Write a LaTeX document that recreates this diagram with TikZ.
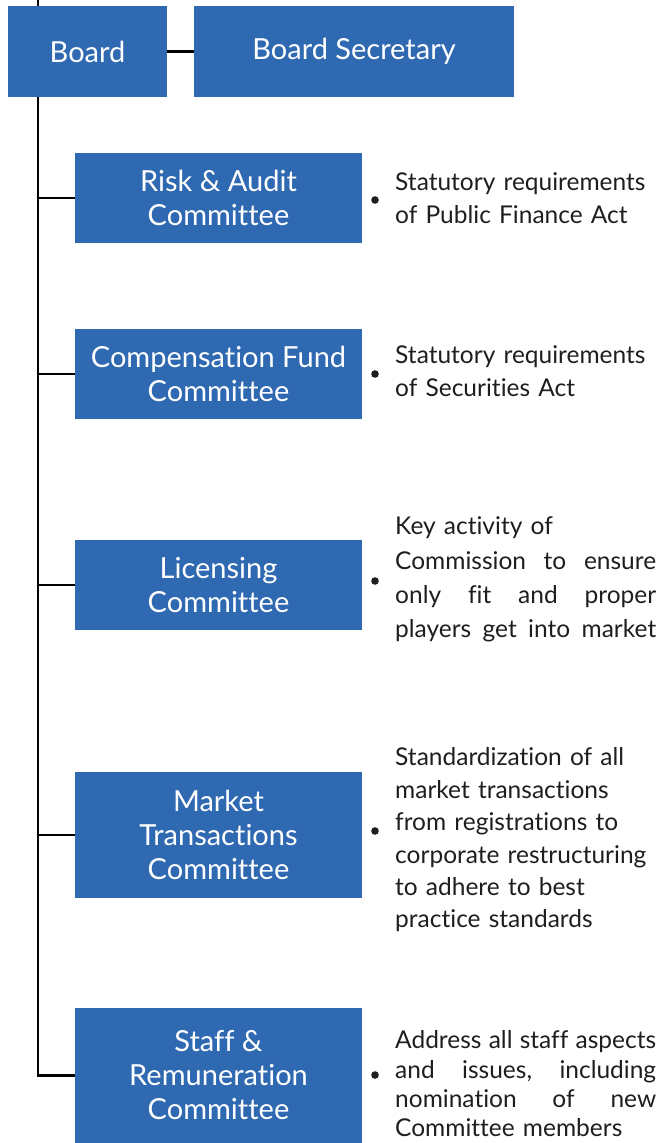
\documentclass[tikz,border=0pt]{standalone}
\usepackage{fontspec}
\setmainfont{Lato}[Ligatures=NoCommon]
\usepackage{tikz}
\usetikzlibrary{backgrounds}
\definecolor{boxblue}{RGB}{47,105,177}
\definecolor{notegray}{RGB}{30,30,30}
\newcommand\spread[1]{\leavevmode\hbox to 261pt{#1}}
\tikzset{
  unit/.style={fill=boxblue, text=white, font=\fontsize{29}{34}\selectfont, align=center, inner sep=0pt},
  note/.style={text=notegray, font=\fontsize{24.5}{33}\selectfont, text width=261pt, align=left, inner sep=0pt, anchor=west},
  link/.style={line width=2.5pt, black}
}

\begin{document}
\begin{tikzpicture}[x=1pt,y=-1pt]
            \useasboundingbox (0,0) rectangle (667,1143);
            \coordinate (top) at (38,0);

            \node[unit, minimum width=159, minimum height=91] (board) at (87.5,51.5) {Board};
            \node[unit, minimum width=320, minimum height=91] (secretary) at (354,51.5) {Board Secretary};

            \node[unit, minimum width=287, minimum height=90] (risk) at (218.5,198) {Risk \& Audit\\ Committee};
            \node[unit, minimum width=287, minimum height=90] (comp) at (218.5,374) {Compensation Fund\\ Committee};
            \node[unit, minimum width=287, minimum height=90] (lic) at (218.5,585) {Licensing\\ Committee};
            \node[unit, minimum width=287, minimum height=126] (market) at (218.5,835) {Market\\ Transactions\\ Committee};
            \node[unit, minimum width=287, minimum height=135] (staff) at (218.5,1075.5) {Staff \&\\ Remuneration\\ Committee};

            \begin{scope}[on background layer]
                \draw[link] (top) -- (top |- staff.west) -- (staff.west);
            \end{scope}
            \draw[link] (board) -- (secretary);
            \draw[link] (top |- risk.west) -- (risk.west);
            \draw[link] (top |- comp.west) -- (comp.west);
            \draw[link] (top |- lic.west) -- (lic.west);
            \draw[link] (top |- market.west) -- (market.west);

            \fill[notegray] (375,200) circle (3.8);
            \node[note] (riskNote) at (395,198) {Statutory requirements\\ of Public Finance Act};

            \fill[notegray] (375,374) circle (3.8);
            \node[note] (compNote) at (395,371.5) {Statutory requirements\\ of Securities Act};

            \fill[notegray] (375,581) circle (3.8);
            \node[note, font=\fontsize{24.5}{34.3}\selectfont] (licNote) at (395,579.5) {Key activity of\\ \spread{Commission\hfill to\hfill ensure}\\ \spread{only\hfill fit\hfill and\hfill proper}\\ \spread{players\hfill get\hfill into\hfill market}};

            \fill[notegray] (375,831) circle (3.8);
            \node[note, font=\fontsize{24.5}{32.4}\selectfont] (marketNote) at (395,840) {Standardization of all\\ market transactions\\ from registrations to\\ corporate restructuring\\ to adhere to best\\ practice standards};

            \fill[notegray] (375,1075) circle (3.8);
            \node[note, font=\fontsize{24.5}{29.3}\selectfont] (staffNote) at (395,1084) {\spread{Address\hfill all\hfill staff\hfill aspects}\\ \spread{and\hfill issues,\hfill including}\\ \spread{nomination\hfill of\hfill new}\\ Committee members};
        \end{tikzpicture}
\end{document}
